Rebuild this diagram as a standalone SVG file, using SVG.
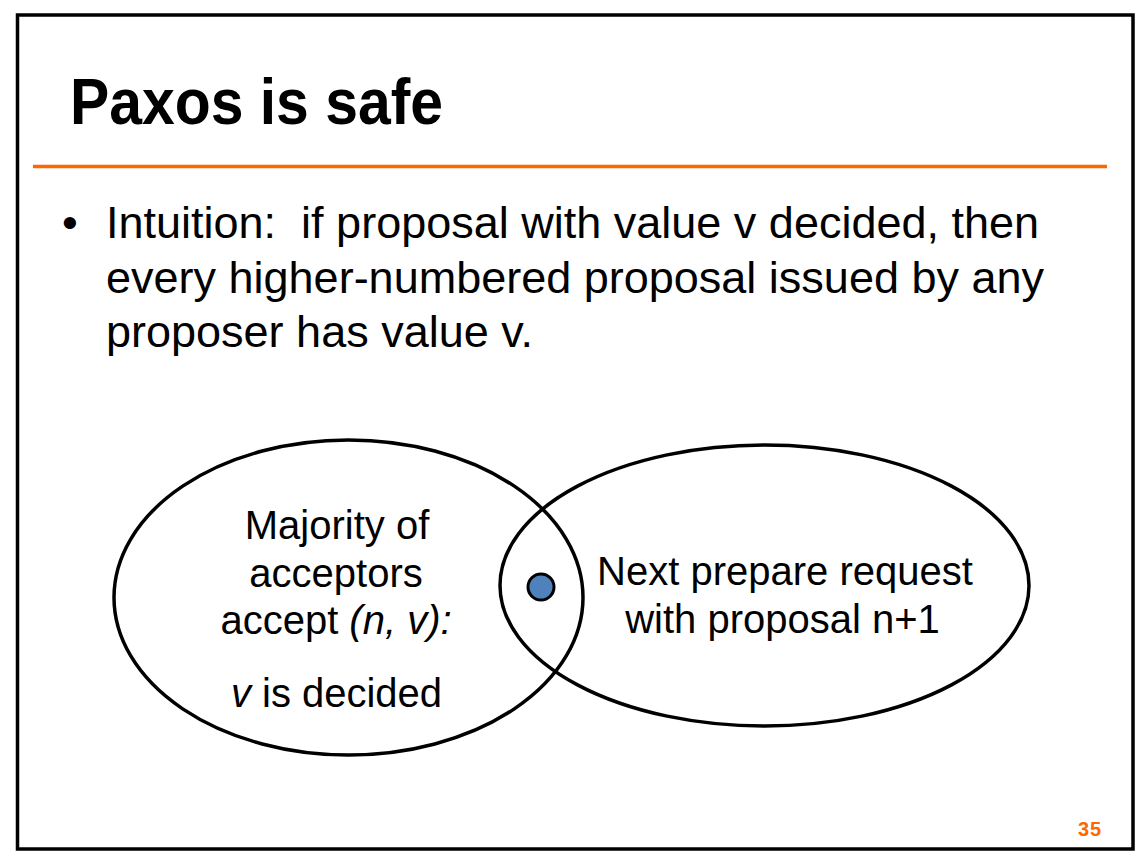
<svg xmlns="http://www.w3.org/2000/svg" width="1147" height="865" viewBox="0 0 1147 865">
  <style>
    .txt { font-family: "Liberation Sans", Arial, sans-serif; fill: #000; }
    .body { font-size: 45px; white-space: pre; }
    .lbl { font-size: 40px; text-anchor: middle; }
    .it { font-style: italic; }
    .ell { fill: none; stroke: #000; stroke-width: 3.5; }
  </style>
  <rect width="1147" height="865" fill="#fff"/>
  <rect id="frame" x="17.5" y="15" width="1115.5" height="834" fill="none" stroke="#000" stroke-width="3.5"/>
  <g id="title">
    <text class="txt" x="70" y="124" font-size="64" font-weight="bold" textLength="373" lengthAdjust="spacingAndGlyphs">Paxos is safe</text>
    <line x1="33" y1="166.5" x2="1107" y2="166.5" stroke="#FF6600" stroke-width="3.5"/>
  </g>
  <g id="bullet">
    <text class="txt body" x="62" y="238">•</text>
    <text class="txt body" x="106" y="238" xml:space="preserve">Intuition:  if proposal with value v decided, then</text>
    <text class="txt body" x="106" y="292.5">every higher-numbered proposal issued by any</text>
    <text class="txt body" x="106" y="347">proposer has value v.</text>
  </g>
  <g id="connectors"/>
  <g id="node-majority">
    <ellipse class="ell" cx="348.5" cy="597.5" rx="234.5" ry="157.5"/>
    <text class="txt lbl" x="337" y="539">Majority of</text>
    <text class="txt lbl" x="336" y="587">acceptors</text>
    <text class="txt lbl" x="336" y="634">accept <tspan class="it">(n, v):</tspan></text>
    <text class="txt lbl" x="336.5" y="707"><tspan class="it">v</tspan> is decided</text>
  </g>
  <g id="node-next">
    <ellipse class="ell" cx="764.5" cy="585.5" rx="264.5" ry="140.5"/>
    <text class="txt lbl" x="785" y="585">Next prepare request</text>
    <text class="txt lbl" x="782.5" y="633">with proposal n+1</text>
  </g>
  <g id="node-overlap">
    <circle cx="541" cy="587" r="13" fill="#4F81BD" stroke="#000" stroke-width="3"/>
  </g>
  <g id="page-number">
    <text class="txt" x="1078" y="836" font-size="20" font-weight="bold" letter-spacing="1" style="fill:#FF6600">35</text>
  </g>
</svg>
